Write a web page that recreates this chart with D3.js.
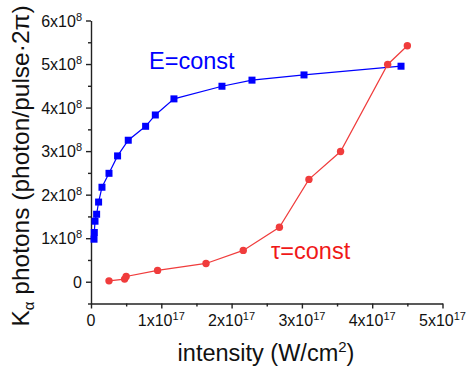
<!DOCTYPE html>
<html><head><meta charset="utf-8">
<script src="https://cdn.jsdelivr.net/npm/d3@7"></script>
<style>
html,body{margin:0;padding:0;background:#fff;}
svg text{font-family:"Liberation Sans",Arial,Helvetica,sans-serif;}
</style></head>
<body><svg id="c" width="469" height="369"></svg>
<script>
// Data (intensity in W/cm^2, photons per pulse per 2π)
const eConstIntensity = [0.043e17,0.047e17,0.057e17,0.08e17,0.108e17,0.156e17,0.256e17,0.378e17,0.53e17,0.777e17,0.915e17,1.18e17,1.863e17,2.29e17,3.03e17,4.41e17];
const eConstPhotons   = [0.977e8,1.131e8,1.39e8,1.55e8,1.83e8,2.17e8,2.49e8,2.89e8,3.25e8,3.57e8,3.83e8,4.2e8,4.49e8,4.63e8,4.75e8,4.95e8];
const tauConstIntensity = [0.256e17,0.478e17,0.50e17,0.947e17,1.636e17,2.166e17,2.68e17,3.10e17,3.55e17,4.22e17,4.50e17];
const tauConstPhotons   = [0.02e8,0.06e8,0.12e8,0.26e8,0.42e8,0.72e8,1.25e8,2.35e8,2.99e8,4.99e8,5.42e8];
const xTickValues = [0,1e17,2e17,3e17,4e17,5e17];
const xTickLabels = [["0",""],["1x10","17"],["2x10","17"],["3x10","17"],["4x10","17"],["5x10","17"]];
const yTickValues = [0,1e8,2e8,3e8,4e8,5e8,6e8];
const yTickLabels = [["0",""],["1x10","8"],["2x10","8"],["3x10","8"],["4x10","8"],["5x10","8"],["6x10","8"]];
const seriesLabels = ["E=const","\u03C4=const"];

const svg = d3.select("#c");
const x = d3.scaleLinear().domain([0,5e17]).range([91,442.5]);
const y = d3.scaleLinear().domain([-0.5e8,6e8]).range([303.5,20.5]);
const axisColor = "#222";

// minor ticks
const xMinor = d3.range(0.5e17,5e17,1e17);
const yMinor = d3.range(-0.5e8,6e8,1e8);

const gx = svg.append("g").attr("transform","translate(0,303.5)")
  .call(d3.axisBottom(x).tickValues(xTickValues).tickSize(5).tickSizeOuter(0).tickFormat(""));
gx.append("g").call(d3.axisBottom(x).tickValues(xMinor).tickSize(3).tickFormat("")).select(".domain").remove();
gx.selectAll("path,line").attr("stroke",axisColor).attr("stroke-width",1.4);
const xl = svg.append("g");
xTickValues.forEach((v,i)=>{
  const t = xl.append("text").attr("x",x(v)).attr("y",326).attr("text-anchor","middle")
    .attr("font-size",16).attr("fill","#111");
  t.append("tspan").text(xTickLabels[i][0]);
  if (xTickLabels[i][1]) t.append("tspan").attr("font-size",11).attr("dy",-6).text(xTickLabels[i][1]);
});

const gy = svg.append("g").attr("transform","translate(91,0)")
  .call(d3.axisLeft(y).tickValues(yTickValues).tickSize(5).tickSizeOuter(0).tickFormat(""));
gy.append("g").call(d3.axisLeft(y).tickValues(yMinor).tickSize(3).tickFormat("")).select(".domain").remove();
gy.selectAll("path,line").attr("stroke",axisColor).attr("stroke-width",1.4);
const yl = svg.append("g");
yTickValues.forEach((v,i)=>{
  const t = yl.append("text").attr("x",82).attr("y",y(v)+6).attr("text-anchor","end")
    .attr("font-size",16).attr("fill","#111");
  t.append("tspan").text(yTickLabels[i][0]);
  if (yTickLabels[i][1]) t.append("tspan").attr("font-size",11).attr("dy",-6).text(yTickLabels[i][1]);
});

// axis titles
const xt = svg.append("text").attr("x",266).attr("y",361).attr("text-anchor","middle")
  .attr("font-size",23.5).attr("fill","#111");
xt.append("tspan").text("intensity (W/cm");
xt.append("tspan").attr("font-size",15).attr("dy",-9).text("2");
xt.append("tspan").attr("dy",9).text(")");

const yt = svg.append("text").attr("transform","translate(28.5,166) rotate(-90)")
  .attr("text-anchor","middle").attr("font-size",24.5).attr("fill","#111");
yt.append("tspan").text("K");
yt.append("tspan").attr("font-size",15).attr("dy",5).text("\u03B1");
yt.append("tspan").attr("dy",-5).text(" photons (photon/pulse\u00B72\u03C0)");

// series
const line = d3.line().x(d=>x(d[0])).y(d=>y(d[1]));
const eData = d3.zip(eConstIntensity,eConstPhotons);
const tData = d3.zip(tauConstIntensity,tauConstPhotons);
const blue = "#0000ff", red = "#f03c3c";

svg.append("path").datum(eData).attr("d",line).attr("fill","none").attr("stroke",blue).attr("stroke-width",1.2);
svg.append("path").datum(tData).attr("d",line).attr("fill","none").attr("stroke",red).attr("stroke-width",1.2);

svg.append("g").selectAll("rect").data(eData).join("rect")
  .attr("x",d=>x(d[0])-3.5).attr("y",d=>y(d[1])-3.5).attr("width",7).attr("height",7).attr("fill",blue);
svg.append("g").selectAll("circle").data(tData).join("circle")
  .attr("cx",d=>x(d[0])).attr("cy",d=>y(d[1])).attr("r",3.7).attr("fill",red);

svg.append("text").attr("x",149).attr("y",69).attr("font-size",23.5).attr("fill",blue).text(seriesLabels[0]);
svg.append("text").attr("x",271).attr("y",259).attr("font-size",23.5).attr("fill","#f01818").text(seriesLabels[1]);
</script></body></html>
